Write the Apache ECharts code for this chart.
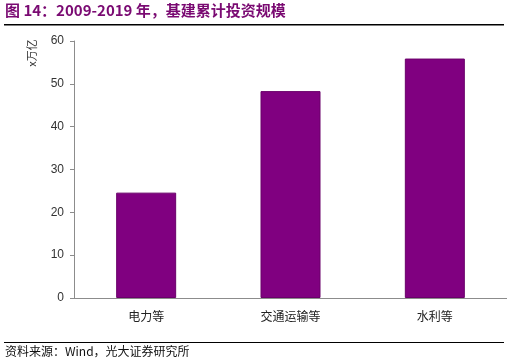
<!DOCTYPE html>
<html><head><meta charset="utf-8">
<script src="https://cdn.jsdelivr.net/npm/echarts@6/dist/echarts.min.js"></script>
<style>html,body{margin:0;padding:0;background:#fff;}#c{width:507px;height:364px;}</style>
</head><body><div id="c"></div>
<script>
const categories = ['电力等', '交通运输等', '水利等'];
const values = [24.6, 48.3, 55.9];
const yTicks = [0, 10, 20, 30, 40, 50, 60];
const titleText = '图 14：2009-2019 年，基建累计投资规模';
const sourceText = '资料来源：Wind，光大证券研究所';
const yName = 'x万亿';

const chart = echarts.init(document.getElementById('c'));
const cjk = '"Liberation Sans", Arial, "Noto Sans CJK SC", sans-serif';
chart.setOption({
  animation: false,
  grid: { left: 74, top: 41, width: 444, height: 257, containLabel: false },
  xAxis: {
    type: 'category', data: categories,
    axisLine: { lineStyle: { color: '#8c8c8c', width: 1 } },
    axisTick: { show: false },
    axisLabel: { color: '#222', fontSize: 12, fontFamily: cjk, margin: 14 }
  },
  yAxis: {
    type: 'value', min: yTicks[0], max: yTicks[yTicks.length - 1], interval: 10,
    axisLine: { show: true, lineStyle: { color: '#8c8c8c', width: 1 } },
    axisTick: { show: true, inside: false, length: 4, lineStyle: { color: '#8c8c8c' } },
    splitLine: { show: false },
    axisLabel: { color: '#333', fontSize: 12, fontFamily: cjk, margin: 10 }
  },
  series: [{
    type: 'bar', data: values, barWidth: 60,
    itemStyle: { color: '#800080', borderColor: '#6a006a', borderWidth: 1 }
  }],
  graphic: [
    { type: 'text', left: 5, top: 3, style: { text: titleText, fill: '#7a0a72', font: 'bold 15px "Noto Sans CJK SC", sans-serif' } },
    { type: 'rect', shape: { x: 4, y: 24, width: 500, height: 1.5 }, style: { fill: '#000' } },
    { type: 'rect', shape: { x: 4, y: 342, width: 500, height: 1 }, style: { fill: '#000' } },
    { type: 'text', left: 5, top: 345, style: { text: sourceText, fill: '#111', font: '12px "Noto Sans CJK SC", sans-serif' } },
    { type: 'text', x: 32, y: 53, rotation: Math.PI / 2, style: { text: yName, fill: '#333', font: '11px "Noto Sans CJK SC", sans-serif', align: 'center', verticalAlign: 'middle' } }
  ]
});
</script></body></html>
